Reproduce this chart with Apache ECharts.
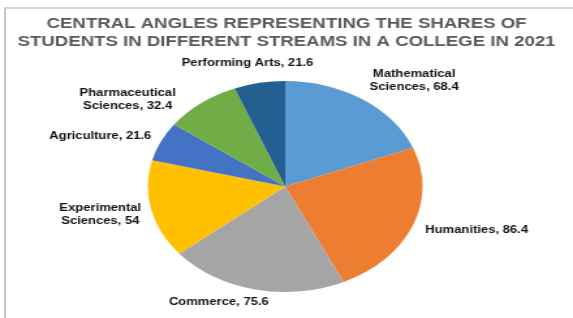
<!DOCTYPE html>
<html>
<head>
<meta charset="utf-8">
<script src="https://cdn.jsdelivr.net/npm/echarts@6/dist/echarts.min.js"></script>
<style>
  html, body { margin: 0; padding: 0; background: #fff; overflow: hidden; }
  #wrap { position: relative; width: 573px; height: 318px; }
  #frame { position: absolute; left: 4px; top: 7px; right: 0; bottom: 0;
           border-left: 2px solid #c9c9c9; border-top: 2px solid #d4d4d4; }
  /* the source picture is stretched sideways, so the chart is drawn narrow and scaled */
  #main { position: absolute; left: 0; top: 0; width: 440px; height: 318px;
          transform: scaleX(1.3023); transform-origin: 0 0; }
</style>
</head>
<body>
<div id="wrap">
  <div id="frame"></div>
  <div id="main"></div>
</div>
<script>
// data (central angles, degrees)
const streams = [
  "Mathematical Sciences",
  "Humanities",
  "Commerce",
  "Experimental Sciences",
  "Agriculture",
  "Pharmaceutical Sciences",
  "Performing Arts"
];
const angles = [68.4, 86.4, 75.6, 54, 21.6, 32.4, 21.6];
const colors = ["#5b9bd5", "#ed7d31", "#a5a5a5", "#ffc000", "#4472c4", "#70ad47", "#255e91"];
const titleLines = [
  "CENTRAL ANGLES REPRESENTING THE SHARES OF",
  "STUDENTS IN DIFFERENT STREAMS IN A COLLEGE IN 2021"
];

// label centres relative to pie centre (unscaled px)
const labelOffset = [
  [99, -106],
  [147, 44],
  [-51, 116],
  [-142, 28],
  [-142, -50],
  [-121, -87],
  [-29, -123]
];

const cx = 219, cy = 186.5;
const font = "'Liberation Sans', Arial, sans-serif";

const chart = echarts.init(document.getElementById("main"));
chart.setOption({
  animation: false,
  title: titleLines.map((t, i) => ({
    text: t,
    left: "center",
    top: 11 + i * 18.5,
    textStyle: {
      fontFamily: font,
      fontSize: 14.3,
      lineHeight: 16,
      fontWeight: "bold",
      color: "#595959"
    }
  })),
  series: [{
    type: "pie",
    center: [cx, cy],
    radius: 105.5,
    startAngle: 90,
    clockwise: true,
    data: streams.map((s, i) => ({ name: s, value: angles[i], itemStyle: { color: colors[i] } })),
    itemStyle: { borderWidth: 0 },
    label: {
      show: true,
      position: "inside",
      formatter: (p) => p.name.replace(" Sciences", "\nSciences") + ", " + p.value,
      fontFamily: font,
      fontSize: 10,
      lineHeight: 13,
      fontWeight: "bold",
      color: "#111",
      align: "center"
    },
    labelLine: { show: false },
    labelLayout: (p) => {
      const o = labelOffset[p.dataIndex];
      return { x: cx + o[0], y: cy + o[1], align: "center", verticalAlign: "middle" };
    },
    emphasis: { disabled: true }
  }]
});
</script>
</body>
</html>
